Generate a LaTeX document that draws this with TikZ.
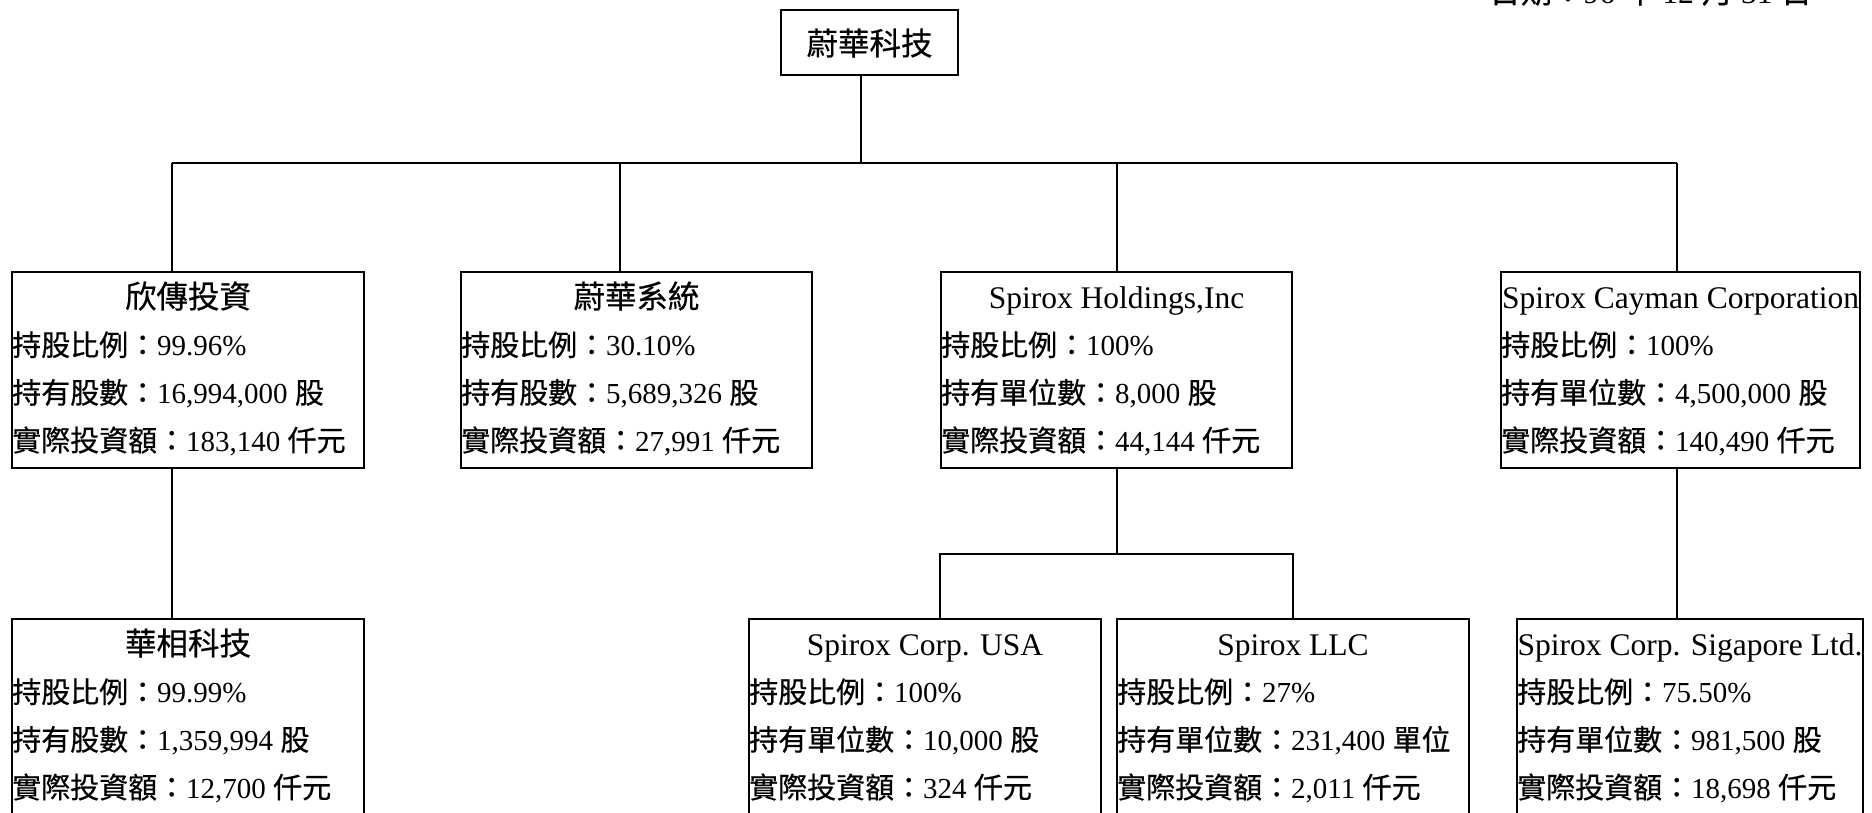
\documentclass[tikz,border=0pt]{standalone}
\usepackage{fontspec}
\setmainfont{Liberation Serif}
\newfontfamily\cjk[FakeBold=0.5]{Noto Sans CJK TC}
\newcommand\lbl[1]{{\cjk #1：}}
\newcommand\unt[1]{ {\cjk #1}}
\tikzset{
   unitbox/.style={draw, line width=1.6pt, anchor=north west, inner sep=0pt, outer sep=0pt},
   link/.style={line width=1.6pt},
   headtext/.style={font=\fontsize{31.5pt}{36pt}\selectfont, inner sep=0pt, anchor=base},
   rowtext/.style={font=\fontsize{29pt}{34pt}\selectfont, inner sep=0pt, anchor=base west}
}
\begin{document}
\begin{tikzpicture}[x=1pt, y=-1pt]
      \useasboundingbox (0,0) rectangle (1872,812);
      \clip (0,0) rectangle (1872,812);
      \def \Units {
         top/781/10/177/65,
         xc/12/272/352/196,
         ws/461/272/351/196,
         sh/941/272/351/196,
         sc/1501/272/359/196,
         hx/12/619/352/260,
         su/749/619/352/260,
         sl/1117/619/352/260,
         sg/1517/619/346/260}
      \def \Heads {
         xc/{\cjk 欣傳投資},
         ws/{\cjk 蔚華系統},
         sh/{Spirox Holdings,Inc},
         sc/{Spirox Cayman Corporation},
         hx/{\cjk 華相科技},
         su/{Spirox Corp. USA},
         sl/{Spirox LLC},
         sg/{Spirox Corp. Sigapore Ltd.}}
      \def \Rows {
         xc/1/{\lbl{持股比例}99.96\%},
         xc/2/{\lbl{持有股數}16,994,000\unt{股}},
         xc/3/{\lbl{實際投資額}183,140\unt{仟元}},
         ws/1/{\lbl{持股比例}30.10\%},
         ws/2/{\lbl{持有股數}5,689,326\unt{股}},
         ws/3/{\lbl{實際投資額}27,991\unt{仟元}},
         sh/1/{\lbl{持股比例}100\%},
         sh/2/{\lbl{持有單位數}8,000\unt{股}},
         sh/3/{\lbl{實際投資額}44,144\unt{仟元}},
         sc/1/{\lbl{持股比例}100\%},
         sc/2/{\lbl{持有單位數}4,500,000\unt{股}},
         sc/3/{\lbl{實際投資額}140,490\unt{仟元}},
         hx/1/{\lbl{持股比例}99.99\%},
         hx/2/{\lbl{持有股數}1,359,994\unt{股}},
         hx/3/{\lbl{實際投資額}12,700\unt{仟元}},
         su/1/{\lbl{持股比例}100\%},
         su/2/{\lbl{持有單位數}10,000\unt{股}},
         su/3/{\lbl{實際投資額}324\unt{仟元}},
         sl/1/{\lbl{持股比例}27\%},
         sl/2/{\lbl{持有單位數}231,400\unt{單位}},
         sl/3/{\lbl{實際投資額}2,011\unt{仟元}},
         sg/1/{\lbl{持股比例}75.50\%},
         sg/2/{\lbl{持有單位數}981,500\unt{股}},
         sg/3/{\lbl{實際投資額}18,698\unt{仟元}}}
      % boxes
      \foreach \u / \x / \y / \w / \h in \Units {
         \node[unitbox, minimum width=\w pt, minimum height=\h pt] (\u) at (\x, \y) {};
      }
      \node[headtext] (top-t) at ([yshift=-45pt]top.north) {\cjk 蔚華科技};
      \foreach \u / \t in \Heads {
         \node[headtext] (\u-t) at ([yshift=-36pt]\u.north) {\t};
      }
      \foreach \u / \k / \t in \Rows {
         \pgfmathsetmacro\dy{36+47.7*\k}
         \node[rowtext] (\u-\k) at ([yshift=-\dy pt]\u.north west) {\t};
      }
      \node[headtext, anchor=base west] (date) at (1489, 3)
         {\lbl{日期}96\unt{年} 12\unt{月} 31\unt{日}};
      % connectors
      \coordinate (b0) at (861, 163);
      \coordinate (b1) at (172, 163);
      \coordinate (b2) at (620, 163);
      \coordinate (b3) at (1117, 163);
      \coordinate (b4) at (1677, 163);
      \coordinate (s1) at (940, 554);
      \coordinate (s2) at (1293, 554);
      \draw[link] (b1) -- (b4);
      \draw[link] (b0) -- (b0 |- top.south);
      \foreach \u / \c in {xc/b1, ws/b2, sh/b3, sc/b4} {
         \draw[link] (\c) -- (\c |- \u.north);
      }
      \draw[link] (b1 |- xc.south) -- (b1 |- hx.north);
      \draw[link] (b4 |- sc.south) -- (b4 |- sg.north);
      \draw[link] (b3 |- sh.south) -- (b3 |- s1);
      \draw[link] (s1 |- su.north) -- (s1) -- (s2) -- (s2 |- sl.north);
   \end{tikzpicture}
\end{document}
